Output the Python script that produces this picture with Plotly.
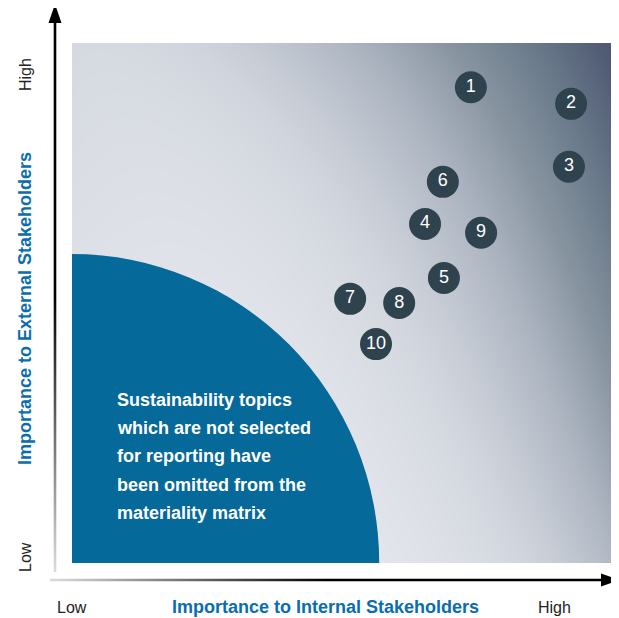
import plotly.graph_objects as go

# ---- data ----
topic_ids = ["1", "2", "3", "4", "5", "6", "7", "8", "9", "10"]
internal_importance = [7.40, 9.26, 9.22, 6.55, 6.90, 6.88, 5.16, 6.07, 7.59, 5.64]
external_importance = [9.15, 8.83, 7.62, 6.52, 5.48, 7.33, 5.08, 5.00, 6.35, 4.21]
omitted_radius_x = 5.70
omitted_radius_y = 5.94
note_lines = ["Sustainability topics", "which are not selected", "for reporting have",
              "been omitted from the", "materiality matrix"]
x_title = "Importance to Internal Stakeholders"
y_title = "Importance to External Stakeholders"
low_label, high_label = "Low", "High"

OFF = 8  # page body margin
W, H = 619 - OFF, 618 - OFF
PL, PR, PT, PB = 72, 611, 43, 563  # plot square in screen pixels


def sx(p):  # screen pixel x -> overlay axis value
    return p - OFF


def sy(p):  # screen pixel y -> overlay axis value (reversed axis)
    return p - OFF


fig = go.Figure()

# ---- decorative background gradient ----
n = 41
gx = [10 * i / (n - 1) for i in range(n)]
gy = [10 * j / (n - 1) for j in range(n)]
z = []
for j in range(n):
    yy = j / (n - 1)
    row = []
    for i in range(n):
        xx = i / (n - 1)
        d = xx ** (3.8 - 2.3 * yy) * (0.38 + 0.62 * yy) + 0.16 * yy * (1 - xx) ** 2
        row.append(min(1.0, d))
    z.append(row)
fig.add_trace(go.Heatmap(
    x=gx, y=gy, z=z, zsmooth="best", showscale=False, hoverinfo="skip",
    zmin=0, zmax=1,
    colorscale=[[0, "#e8ebf0"], [0.2, "#d0d4dc"], [0.4, "#aeb6c2"],
                [0.6, "#8794a0"], [0.8, "#687889"], [1, "#4c5670"]],
))

# ---- topics ----
fig.add_trace(go.Scatter(
    x=internal_importance, y=external_importance, text=topic_ids,
    mode="markers+text", textposition="middle center",
    marker=dict(size=32, color="#2f434f", line=dict(width=0)),
    textfont=dict(family="Liberation Sans, Arial, sans-serif", size=18, color="white"),
    hoverinfo="skip",
))

# ---- axis arrows (overlay pixel axes) ----
hw = 1.3
fig.add_trace(go.Scatter(
    x=[sx(55 - hw), sx(55 + hw), sx(55 + hw), sx(55 - hw), sx(55 - hw)],
    y=[sy(572), sy(572), sy(20), sy(20), sy(572)],
    xaxis="x2", yaxis="y2", mode="none", fill="toself", hoverinfo="skip",
    fillgradient=dict(type="vertical", start=sy(20), stop=sy(572),
                      colorscale=[[0, "black"], [0.5, "black"], [1, "#dcdcdc"]]),
))
fig.add_trace(go.Scatter(
    x=[sx(50), sx(605), sx(605), sx(50), sx(50)],
    y=[sy(580 - hw), sy(580 - hw), sy(580 + hw), sy(580 + hw), sy(580 - hw)],
    xaxis="x2", yaxis="y2", mode="none", fill="toself", hoverinfo="skip",
    fillgradient=dict(type="horizontal", start=sx(50), stop=sx(605),
                      colorscale=[[0, "#dcdcdc"], [0.5, "black"], [1, "black"]]),
))
fig.add_trace(go.Scatter(
    x=[sx(55), sx(48.5), sx(61.5), sx(55)], y=[sy(4), sy(23), sy(23), sy(4)],
    xaxis="x2", yaxis="y2", mode="none", fill="toself", fillcolor="black", hoverinfo="skip",
))
fig.add_trace(go.Scatter(
    x=[sx(619), sx(601), sx(601), sx(619)], y=[sy(580), sy(573.5), sy(586.5), sy(580)],
    xaxis="x2", yaxis="y2", mode="none", fill="toself", fillcolor="black", hoverinfo="skip",
))

shapes = [dict(type="circle", xref="x", yref="y", layer="above",
               x0=-omitted_radius_x, x1=omitted_radius_x,
               y0=-omitted_radius_y, y1=omitted_radius_y,
               fillcolor="#05699a", line=dict(width=0))]

annotations = []
line_ys = [400, 428, 456, 485, 513]
for txt, yp in zip(note_lines, line_ys):
    annotations.append(dict(text=f"<b>{txt}</b>", xref="x2", yref="y2",
                            x=sx(115), y=sy(yp), xanchor="left", yanchor="middle",
                            showarrow=False,
                            font=dict(family="Liberation Sans, Arial, sans-serif", size=18, color="white")))

blue = "#0a6db0"
annotations.append(dict(text=f"<b>{x_title}</b>", xref="x2", yref="y2",
                        x=sx(325), y=sy(607), xanchor="center", yanchor="middle", showarrow=False,
                        font=dict(family="Liberation Sans, Arial, sans-serif", size=18, color=blue)))
annotations.append(dict(text=f"<b>{y_title}</b>", xref="x2", yref="y2", textangle=-90,
                        x=sx(25), y=sy(309), xanchor="center", yanchor="middle", showarrow=False,
                        font=dict(family="Liberation Sans, Arial, sans-serif", size=18, color=blue)))
lbl_font = dict(family="Liberation Sans, Arial, sans-serif", size=16, color="#222222")
annotations.append(dict(text=low_label, xref="x2", yref="y2", x=sx(72), y=sy(607),
                        xanchor="center", yanchor="middle", showarrow=False, font=lbl_font))
annotations.append(dict(text=high_label, xref="x2", yref="y2", x=sx(554), y=sy(607),
                        xanchor="center", yanchor="middle", showarrow=False, font=lbl_font))
annotations.append(dict(text=high_label, xref="x2", yref="y2", x=sx(25), y=sy(75),
                        textangle=-90, xanchor="center", yanchor="middle", showarrow=False, font=lbl_font))
annotations.append(dict(text=low_label, xref="x2", yref="y2", x=sx(25), y=sy(557),
                        textangle=-90, xanchor="center", yanchor="middle", showarrow=False, font=lbl_font))

fig.update_layout(
    width=W, height=H, margin=dict(l=0, r=0, t=0, b=0, pad=0),
    paper_bgcolor="white", plot_bgcolor="rgba(0,0,0,0)", showlegend=False,
    xaxis=dict(range=[0, 10], visible=False, fixedrange=True,
               domain=[sx(PL) / W, sx(PR) / W], anchor="y"),
    yaxis=dict(range=[0, 10], visible=False, fixedrange=True,
               domain=[(H - sy(PB)) / H, (H - sy(PT)) / H], anchor="x"),
    xaxis2=dict(range=[0, W], visible=False, fixedrange=True, domain=[0, 1], anchor="y2"),
    yaxis2=dict(range=[H, 0], visible=False, fixedrange=True, domain=[0, 1], anchor="x2"),
    shapes=shapes, annotations=annotations,
)

fig.write_html("out.html")
